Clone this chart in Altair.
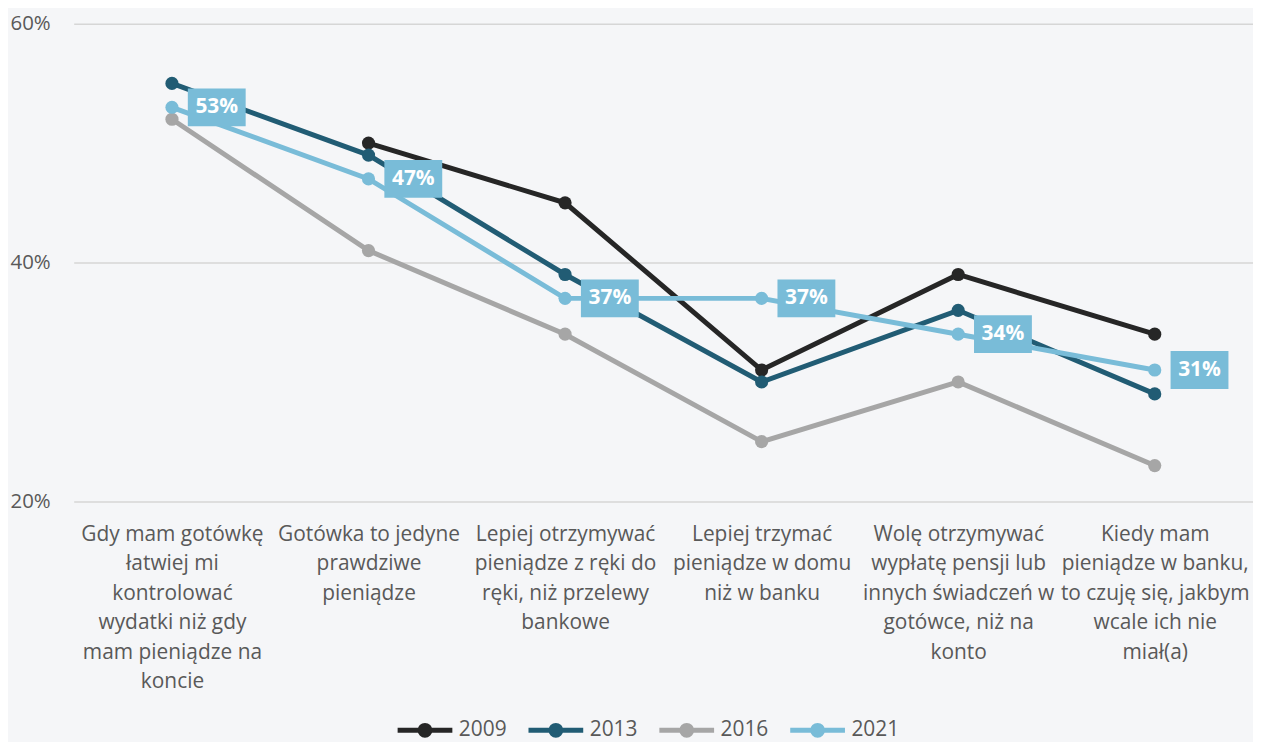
import altair as alt
import pandas as pd

categories = [
    "Gdy mam gotówkę\nłatwiej mi\nkontrolować\nwydatki niż gdy\nmam pieniądze na\nkoncie",
    "Gotówka to jedyne\nprawdziwe\npieniądze",
    "Lepiej otrzymywać\npieniądze z ręki do\nręki, niż przelewy\nbankowe",
    "Lepiej trzymać\npieniądze w domu\nniż w banku",
    "Wolę otrzymywać\nwypłatę pensji lub\ninnych świadczeń w\ngotówce, niż na\nkonto",
    "Kiedy mam\npieniądze w banku,\nto czuję się, jakbym\nwcale ich nie\nmiał(a)",
]
years = ["2009", "2013", "2016", "2021"]
v2009 = [None, 50, 45, 31, 39, 34]
v2013 = [55, 49, 39, 30, 36, 29]
v2016 = [52, 41, 34, 25, 30, 23]
v2021 = [53, 47, 37, 37, 34, 31]
colors = ["#262626", "#215c74", "#a6a6a6", "#79bcd8"]

rows = []
for y, vals in zip(years, [v2009, v2013, v2016, v2021]):
    for c, v in zip(categories, vals):
        if v is not None:
            rows.append({"cat": c, "year": y, "value": v})
df = pd.DataFrame(rows)
lab = df[df.year == "2021"]

FONT = "Open Sans"
xenc = alt.X("cat:N", sort=categories, scale=alt.Scale(type="point", padding=0.5),
             axis=alt.Axis(title=None, labelAngle=0, domain=False, ticks=False, grid=False,
                           labelExpr="split(datum.label, '\\n')", labelLineHeight=29.6,
                           labelFontSize=21, labelColor="#595959", labelFont=FONT,
                           labelPadding=22, labelBaseline="top", labelLimit=400))
yenc = alt.Y("value:Q", scale=alt.Scale(domain=[20, 60]),
             axis=alt.Axis(title=None, values=[20, 40, 60], labelExpr="datum.value + '%'",
                           domain=False, ticks=False, gridColor="#d6d6d6", gridWidth=1.5,
                           labelAlign="left", labelPadding=64, labelFontSize=20.5,
                           labelColor="#595959", labelFont=FONT))

legend_path = "M-1,0H1M0.18,0A0.18,0.18 0 1 1 -0.18,0A0.18,0.18 0 1 1 0.18,0Z"
leg = alt.Legend(title=None, orient="none", direction="horizontal",
                 legendX=323, legendY=680, symbolType=legend_path,
                 symbolSize=3025, symbolStrokeWidth=5, labelOffset=4,
                 columnPadding=10.5, labelFontSize=21, labelColor="#595959",
                 labelFont=FONT, symbolOpacity=1)

lines = alt.Chart(df).mark_line(strokeWidth=5).encode(
    x=xenc, y=yenc,
    stroke=alt.Stroke("year:N", scale=alt.Scale(domain=years, range=colors), legend=leg))
points = alt.Chart(df).mark_circle(size=175, opacity=1).encode(
    x=xenc, y=yenc,
    fill=alt.Fill("year:N", scale=alt.Scale(domain=years, range=colors), legend=leg))
box_path = "M-1.53,-1H1.53V1H-1.53Z"
boxes = alt.Chart(lab).mark_point(shape=box_path, size=1444, filled=True, opacity=1,
                                  color="#79bcd8", xOffset=45, strokeWidth=0).encode(x=xenc, y=yenc)
texts = alt.Chart(lab).mark_text(color="white", fontWeight="bold", fontSize=21, font=FONT,
                                 xOffset=45).encode(
    x=xenc, y=yenc, text=alt.Text("label:N")).transform_calculate(
    label="datum.value + '%'")

chart = alt.layer(lines, points, boxes, texts).properties(
    width=1185, height=480,
    background="#f5f6f8",
    padding={"left": 66, "top": 14, "right": 0, "bottom": 240},
    autosize=alt.AutoSizeParams(type="none"),
).configure_view(stroke=None)

chart.save("out.html", embed_options={"renderer": "svg", "actions": False})
